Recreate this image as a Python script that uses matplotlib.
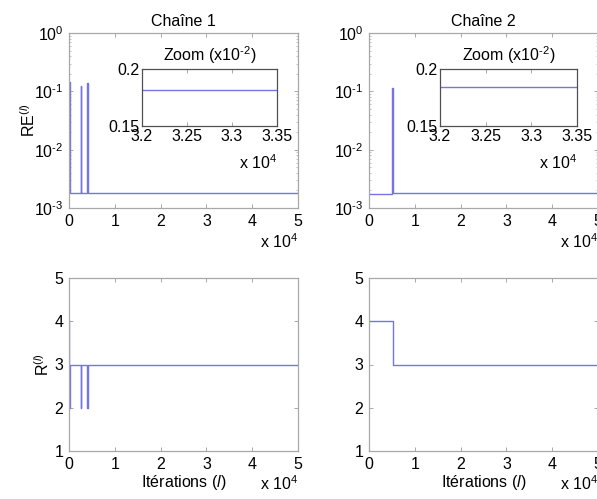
import numpy as np
import matplotlib
matplotlib.use('Agg')
import matplotlib.pyplot as plt
from matplotlib.ticker import FixedLocator, FuncFormatter, LogLocator, NullFormatter

plt.rcParams['font.family'] = ['Liberation Sans', 'DejaVu Sans']
plt.rcParams['mathtext.fontset'] = 'custom'
plt.rcParams['mathtext.rm'] = 'Liberation Sans'
plt.rcParams['mathtext.it'] = 'Liberation Sans:italic'
plt.rcParams['mathtext.default'] = 'regular'

# ---- data ----
titles = ['Chaîne 1', 'Chaîne 2']

re1_iter = [0, 150, 2600, 2700, 3900, 4050, 50000]
re1_vals = [0.143, 0.00182, 0.125, 0.00182, 0.14, 0.00182, 0.00182]

re2_iter = [0, 5100, 5150, 5200, 50000]
re2_vals = [0.00175, 0.114, 0.015, 0.00184, 0.00184]

r1_iter = [0, 100, 250, 2600, 2700, 3900, 4050, 50000]
r1_vals = [4, 2, 3, 2, 3, 2, 3, 3]

r2_iter = [0, 5200, 50000]
r2_vals = [4, 3, 3]

x_ticks = [0, 10000, 20000, 30000, 40000, 50000]
inset_x_ticks = [32000, 32500, 33000, 33500]
inset_y_ticks = [0.15, 0.2]
r_ticks = [1, 2, 3, 4, 5]

LINE = '#7474e6'
SPINE = '#a8a8a8'
FS = 11.5
HY = '\u2010'

fig = plt.figure(figsize=(5.97, 4.99), dpi=100)

W, H = 597.0, 499.0
def pos(l, t, r, b):
    return [l / W, 1 - b / H, (r - l) / W, (b - t) / H]

def style(ax):
    for s in ax.spines.values():
        s.set_color(SPINE)
        s.set_linewidth(0.9)
    ax.tick_params(direction='in', top=True, right=True, color=SPINE,
                   labelsize=FS, length=3, width=0.7, pad=4)
    ax.tick_params(which='minor', direction='in', top=True, right=True,
                   color=SPINE, length=1.5, width=0.5)

xfmt = FuncFormatter(lambda v, p: f'{v/1e4:g}')

def logfmt(v, p):
    e = int(round(np.log10(v)))
    s = str(e).replace('-', HY)
    return r'$10^{%s}$' % s

re_data = [(re1_iter, re1_vals), (re2_iter, re2_vals)]
r_data = [(r1_iter, r1_vals), (r2_iter, r2_vals)]
lefts = [69, 369]
inset_lr = [(142, 277), (440, 577)]

for i in range(2):
    L = lefts[i]
    # RE axes
    ax = fig.add_axes(pos(L, 33, L + 229, 208))
    it, v = re_data[i]
    ax.plot(it, v, drawstyle='steps-post', color=LINE, lw=1.0)
    ax.set_yscale('log')
    ax.set_ylim(1e-3, 1)
    ax.set_xlim(0, 50000)
    ax.xaxis.set_major_locator(FixedLocator(x_ticks))
    ax.xaxis.set_major_formatter(xfmt)
    ax.yaxis.set_major_locator(FixedLocator([1e-3, 1e-2, 1e-1, 1]))
    ax.yaxis.set_major_formatter(FuncFormatter(logfmt))
    ax.yaxis.set_minor_locator(LogLocator(base=10, subs=np.arange(2, 10)))
    ax.yaxis.set_minor_formatter(NullFormatter())
    style(ax)
    ax.set_title(titles[i], fontsize=FS, pad=5)
    if i == 0:
        ax.set_ylabel(r'RE$^{(\mathit{l})}$', fontsize=FS, labelpad=-3)
    ax.text(1.0, -0.19, r'x 10$^{4}$', transform=ax.transAxes, ha='right',
            va='center', fontsize=FS)

    # inset
    il, ir = inset_lr[i]
    axi = fig.add_axes(pos(il, 69, ir, 126))
    axi.plot(it, np.array(v) * 100, drawstyle='steps-post', color=LINE, lw=1.0)
    axi.set_xlim(32000, 33500)
    axi.set_ylim(0.15, 0.2)
    axi.xaxis.set_major_locator(FixedLocator(inset_x_ticks))
    axi.xaxis.set_major_formatter(xfmt)
    axi.yaxis.set_major_locator(FixedLocator(inset_y_ticks))
    axi.yaxis.set_major_formatter(FuncFormatter(lambda v, p: f'{v:g}'))
    style(axi)
    axi.tick_params(right=False, pad=2)
    for s in axi.spines.values():
        s.set_color('#505050')
    axi.set_title('Zoom (x10$^{%s2}$)' % HY, fontsize=FS, pad=6)
    axi.text(1.0, -0.65, r'x 10$^{4}$', transform=axi.transAxes, ha='right',
             va='center', fontsize=FS)

    # R axes
    axr = fig.add_axes(pos(L, 278, L + 229, 451))
    it, v = r_data[i]
    axr.plot(it, v, drawstyle='steps-post', color=LINE, lw=1.0)
    axr.set_xlim(0, 50000)
    axr.set_ylim(1, 5)
    axr.xaxis.set_major_locator(FixedLocator(x_ticks))
    axr.xaxis.set_major_formatter(xfmt)
    axr.yaxis.set_major_locator(FixedLocator(r_ticks))
    style(axr)
    if i == 0:
        axr.set_ylabel(r'R$^{(\mathit{l})}$', fontsize=FS, labelpad=2)
    axr.set_xlabel(r'Itérations ($\mathit{l}$)', fontsize=FS, labelpad=1)
    axr.text(1.0, -0.19, r'x 10$^{4}$', transform=axr.transAxes, ha='right',
             va='center', fontsize=FS)

fig.savefig('out.png', dpi=100)
